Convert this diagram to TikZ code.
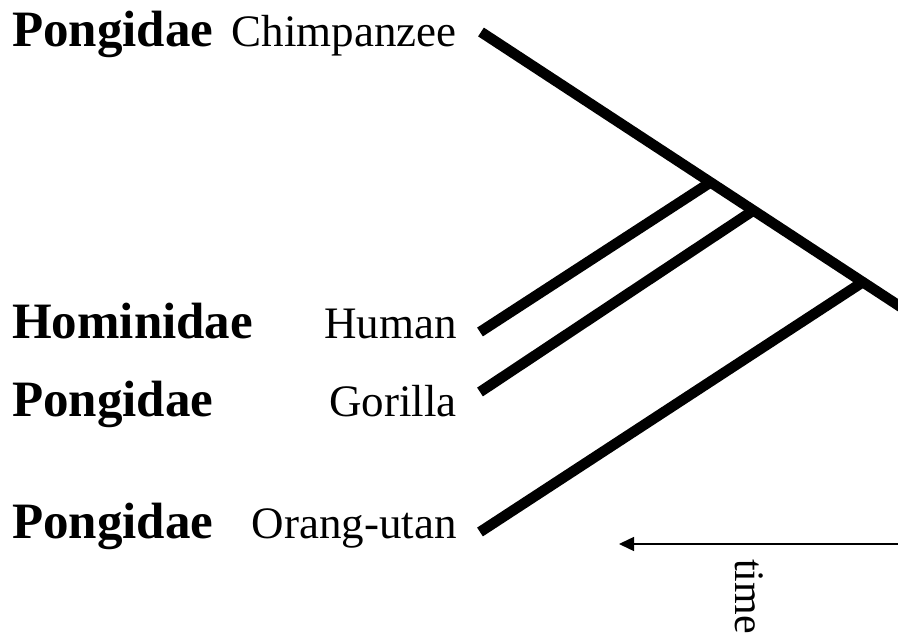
\documentclass[tikz,border=0pt]{standalone}
\usepackage{fontspec}
\setmainfont{Liberation Serif}
\usetikzlibrary{arrows.meta,calc}
\begin{document}
\begin{tikzpicture}[x=1pt,y=-1pt,
  family/.style={anchor=base west,inner sep=0pt,font=\fontsize{51}{60}\selectfont\bfseries},
  species/.style={anchor=base east,inner sep=0pt,font=\fontsize{45}{52}\selectfont},
  branch/.style={line width=10.5pt,line cap=butt},
  timearrow/.style={line width=1.4pt,-{Triangle[length=15pt,width=14pt]}}]
\useasboundingbox (0,0) rectangle (898,636);
\clip (0,0) rectangle (898,636);
% labels
\node[family] (f1) at (12,47) {Pongidae};
\node[species] (s1) at (457,47) {Chimpanzee};
\node[family] (f2) at (12,339) {Hominidae};
\node[species] (s2) at (457,339) {Human};
\node[family] (f3) at (12,417) {Pongidae};
\node[species] (s3) at (457,417) {Gorilla};
\node[family] (f4) at (12,538) {Pongidae};
\node[species] (s4) at (457,538) {Orang-utan};
% tree
\coordinate (chimp) at (481,32);
\coordinate (root) at (910,313);
\coordinate (human) at (480,332);
\coordinate (gorilla) at (480,392);
\coordinate (orang) at (480,532);
\coordinate (j1) at ($(chimp)!0.535!(root)$);
\coordinate (j2) at ($(chimp)!0.635!(root)$);
\coordinate (j3) at ($(chimp)!0.89!(root)$);
\draw[branch] (chimp) -- (root);
\draw[branch] (human) -- (j1);
\draw[branch] (gorilla) -- (j2);
\draw[branch] (orang) -- (j3);
% time arrow
\coordinate (tstart) at (900,544);
\coordinate (tend) at (619,544);
\draw[timearrow] (tstart) -- (tend);
\node[rotate=-90,anchor=north west,inner sep=0pt,font=\fontsize{42}{50}\selectfont] (time) at (764,559) {time};
\end{tikzpicture}
\end{document}
